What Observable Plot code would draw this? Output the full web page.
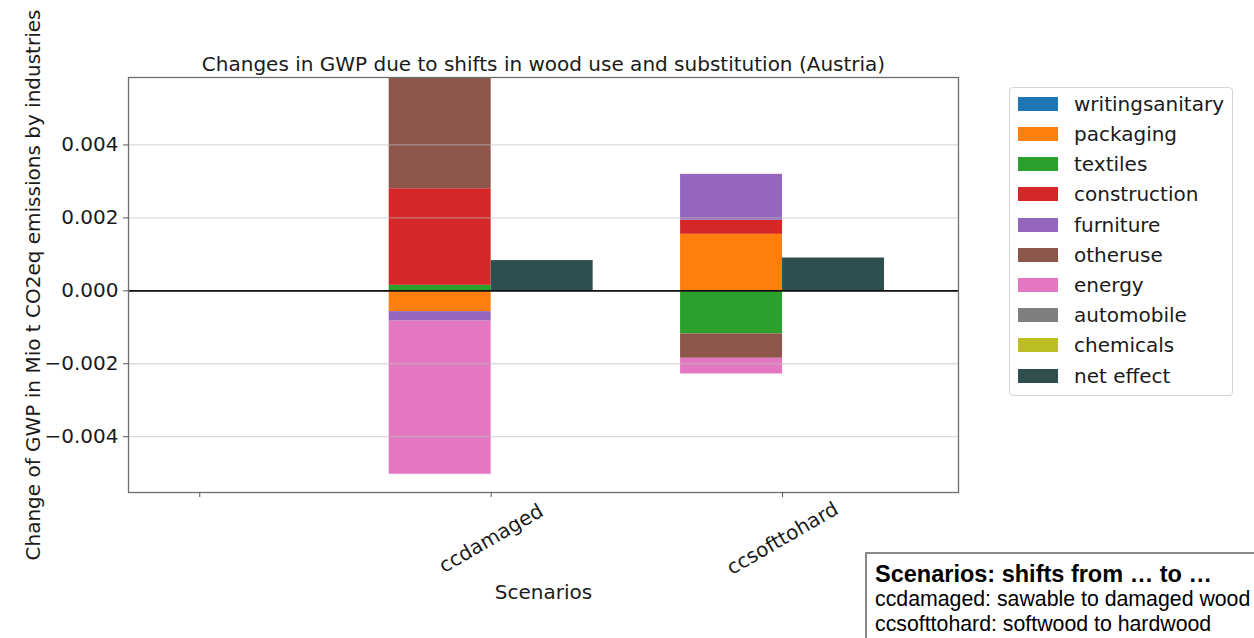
<!DOCTYPE html>
<html>
<head>
<meta charset="utf-8">
<script src="https://cdn.jsdelivr.net/npm/d3@7"></script>
<script src="https://cdn.jsdelivr.net/npm/@observablehq/plot@0.6"></script>
<style>
  html, body { margin: 0; padding: 0; background: #fff; overflow: hidden; }
  #wrap { position: relative; width: 1254px; height: 638px; }
  #legend {
    position: absolute; left: 1009px; top: 87px; width: 222px; height: 307px;
    border: 1px solid #d4d4d4; border-radius: 4px; background: #fff;
    font-family: "DejaVu Sans", sans-serif; font-size: 20px; color: #1a1a1a;
  }
  #legend .item { position: absolute; left: 0; height: 30px; width: 100%; }
  #legend .sw { position: absolute; left: 8px; top: 8px; width: 40px; height: 14px; }
  #legend .lb { position: absolute; left: 64px; top: 0; line-height: 30px; white-space: nowrap; }
  #note {
    position: absolute; left: 865px; top: 552px; width: 420px; height: 120px;
    border: 2px solid #8a8a8a; background: #fff; box-sizing: border-box;
    font-family: "Liberation Sans", Arial, sans-serif; color: #000;
    padding: 7px 0 0 8px;
  }
  #note .hd { font-weight: bold; font-size: 23.5px; line-height: 26px; }
  #note .ln { font-size: 21.3px; line-height: 25px; white-space: nowrap; }
</style>
</head>
<body>
<div id="wrap"></div>
<script>
// Scenario categories on the x axis (the first slot is left blank)
const scenarios = ["", "ccdamaged", "ccsofttohard"];

// Industries in stacking order, with their colours
const industries = ["writingsanitary", "packaging", "textiles", "construction",
  "furniture", "otheruse", "energy", "automobile", "chemicals"];
const industryColors = ["#1f77b4", "#ff7f0e", "#2ca02c", "#d62728",
  "#9467bd", "#8c564b", "#e377c2", "#7f7f7f", "#bcbd22"];

// Change of GWP (Mio t CO2eq) per industry, one value per industry above
const ccdamaged = [0, -0.00057, 0.00015, 0.00265, -0.00026, 0.00306, -0.0042, 0, 0];
const ccsofttohard = [0, 0.00155, -0.00118, 0.000385, 0.00126, -0.00067, -0.00043, 0, 0];

// Net effect per scenario (ccdamaged, ccsofttohard)
const netEffect = [0.00083, 0.0009];
const netColor = "#2f4f4f";

const yTicks = [-0.004, -0.002, 0, 0.002, 0.004];

// Long-format rows for the stacked industry bars
const series = {ccdamaged, ccsofttohard};
const rows = [];
scenarios.forEach((s, i) => {
  if (!series[s]) return;
  series[s].forEach((v, k) => rows.push({i, scenario: s, industry: industries[k], value: v}));
});
const netRows = netEffect.map((v, k) => ({i: k + 1, value: v}));

const barW = 0.35;

const chart = Plot.plot({
  width: 1254,
  height: 638,
  marginLeft: 128,
  marginRight: 296,
  marginTop: 77,
  marginBottom: 146,
  style: {fontFamily: "DejaVu Sans, sans-serif", fontSize: "20px", color: "#1a1a1a", background: "transparent"},
  x: {type: "linear", domain: [-0.2446, 2.6038], axis: null},
  y: {domain: [-0.00553, 0.00585], axis: null},
  color: {domain: industries, range: industryColors},
  marks: [
    // stacked industry contributions, left of each scenario tick
    Plot.rectY(rows, Plot.stackY({
      x1: d => d.i - barW, x2: d => d.i, y: "value", fill: "industry", clip: true
    })),
    // net effect, right of each scenario tick
    Plot.rectY(netRows, {x1: "i", x2: d => d.i + barW, y1: 0, y2: "value", fill: netColor, clip: true}),
    Plot.gridY(yTicks, {stroke: "#bdbdbd", strokeOpacity: 0.55, strokeWidth: 1.3}),
    Plot.ruleY([0], {stroke: "#111", strokeWidth: 1.6}),
    Plot.frame({stroke: "#6e6e6e", strokeWidth: 1.3}),
    Plot.axisY({ticks: yTicks, tickFormat: d3.format(".3f"), tickSize: 5, tickPadding: 5,
      label: null, stroke: "#555", fill: "#1a1a1a"}),
    Plot.axisX({ticks: [0, 1, 2], tickFormat: () => "", tickSize: 5, label: null, stroke: "#555"}),
    // rotated scenario labels
    Plot.text(scenarios.map((s, i) => ({i, s})), {
      x: "i", text: "s", frameAnchor: "bottom", rotate: -30, textAnchor: "middle",
      lineAnchor: "middle", dy: 46, fill: "#1a1a1a"
    }),
    Plot.text(["Scenarios"], {frameAnchor: "bottom", dy: 100, lineAnchor: "middle", fill: "#1a1a1a"}),
    Plot.text(["Change of GWP in Mio t CO2eq emissions by industries"], {
      frameAnchor: "left", rotate: -90, dx: -95, lineAnchor: "middle", textAnchor: "middle", fill: "#1a1a1a"
    }),
    Plot.text(["Changes in GWP due to shifts in wood use and substitution (Austria)"], {
      frameAnchor: "top", dy: -13, lineAnchor: "middle", fill: "#1a1a1a"
    })
  ]
});

const wrap = document.getElementById("wrap");
wrap.appendChild(chart);
chart.style.position = "absolute";
chart.style.left = "0";
chart.style.top = "0";

// Legend: industries plus the net effect
const legend = document.createElement("div");
legend.id = "legend";
const legendNames = [...industries, "net effect"];
const legendColors = [...industryColors, netColor];
legendNames.forEach((name, k) => {
  const item = document.createElement("div");
  item.className = "item";
  item.style.top = (0.8 + 30.2 * k) + "px";
  const sw = document.createElement("div");
  sw.className = "sw";
  sw.style.background = legendColors[k];
  const lb = document.createElement("div");
  lb.className = "lb";
  lb.textContent = name;
  item.appendChild(sw);
  item.appendChild(lb);
  legend.appendChild(item);
});
wrap.appendChild(legend);

// Scenario description box
const note = document.createElement("div");
note.id = "note";
note.innerHTML = '<div class="hd">Scenarios: shifts from … to …</div>' +
  '<div class="ln">ccdamaged: sawable to damaged wood</div>' +
  '<div class="ln">ccsofttohard: softwood to hardwood</div>';
wrap.appendChild(note);
</script>
</body>
</html>
